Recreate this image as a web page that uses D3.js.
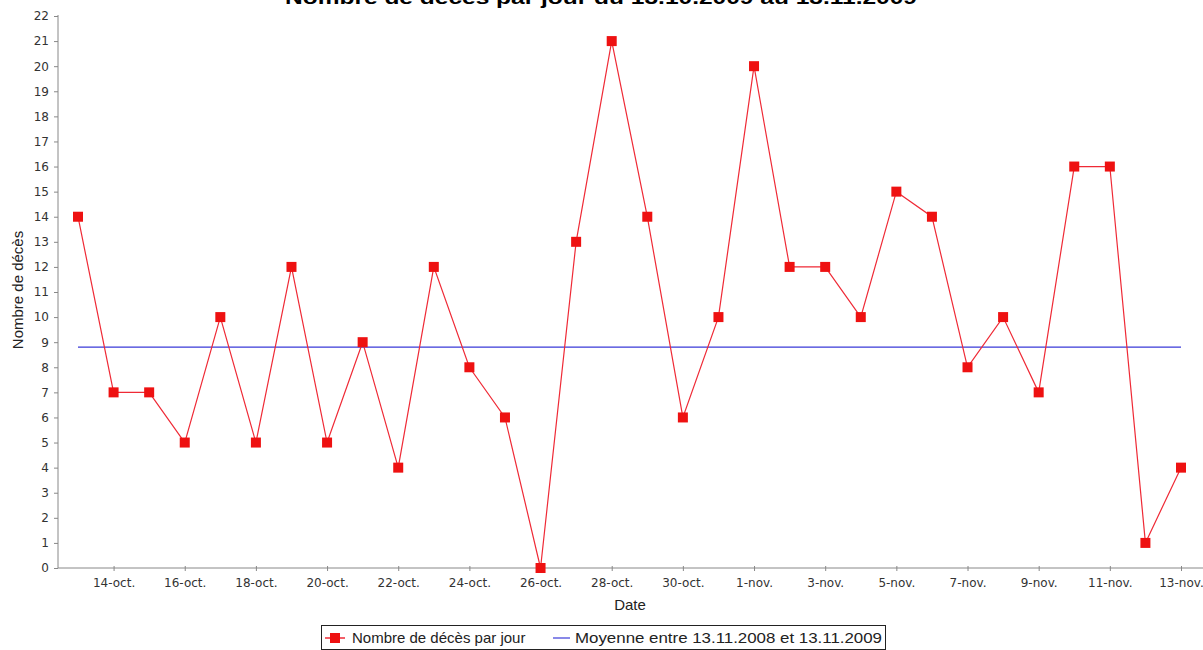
<!DOCTYPE html>
<html><head><meta charset="utf-8">
<script src="https://d3js.org/d3.v7.min.js"></script>
<style>
body{margin:0;background:#fff;}
svg{display:block;font-family:"Liberation Sans",Arial,sans-serif;}
</style></head>
<body>
<script>
const titleText = "Nombre de décès par jour du 13.10.2009 au 13.11.2009";
const startDate = "2009-10-13";
const deaths = [14,7,7,5,10,5,12,5,9,4,12,8,6,0,13,21,14,6,10,20,12,12,10,15,14,8,10,7,16,16,1,4];
const meanValue = 8.8;
const tickLabels = ["14-oct.","16-oct.","18-oct.","20-oct.","22-oct.","24-oct.","26-oct.","28-oct.","30-oct.",
  "1-nov.","3-nov.","5-nov.","7-nov.","9-nov.","11-nov.","13-nov."];
const yTicks = d3.range(0,23);
const seriesName = "Nombre de décès par jour";
const meanName = "Moyenne entre 13.11.2008 et 13.11.2009";
const xTitle = "Date", yTitle = "Nombre de décès";

const W=1203,H=650;
const svg=d3.select("body").append("svg").attr("width",W).attr("height",H);

const t0 = new Date(startDate+"T00:00:00Z");
const day = 86400000;
const dates = deaths.map((d,i)=>new Date(t0.getTime()+i*day));
const data = deaths.map((v,i)=>({date:dates[i],v}));
const tickDates = tickLabels.map((l,i)=>new Date(t0.getTime()+(1+2*i)*day));

const x = d3.scaleUtc().domain([dates[0],dates[dates.length-1]]).range([78,1181]);
const y = d3.scaleLinear().domain([0,22]).range([568,16]);
const axisColor="#888";
const red="#ee1111", lineRed="#ef2a36", blue="#3a3ad8";

// title (clipped at top as in the reference)
svg.append("text").attr("x",601).attr("y",4).attr("text-anchor","middle")
  .attr("font-weight","bold").attr("font-size",18).attr("textLength",632).attr("lengthAdjust","spacingAndGlyphs")
  .text(titleText);

// y axis
const yAxis = svg.append("g").attr("transform","translate(58,0)")
  .call(d3.axisLeft(y).tickValues(yTicks).tickFormat(d3.format("d")).tickSize(4).tickPadding(5));
// x axis
const xAxis = svg.append("g").attr("transform","translate(0,568)")
  .call(d3.axisBottom(x).tickValues(tickDates).tickFormat((d,i)=>tickLabels[i]).tickSize(3).tickPadding(7));
[yAxis,xAxis].forEach(g=>{
  g.select(".domain").remove();
  g.selectAll(".tick line").attr("stroke",axisColor);
  g.selectAll(".tick text").attr("fill","#333").attr("font-size",12).attr("font-family","DejaVu Sans, sans-serif");
});
xAxis.selectAll(".tick line").attr("y1",-2);
svg.append("line").attr("x1",58).attr("x2",58).attr("y1",y(22)-1).attr("y2",y(0)).attr("stroke",axisColor);
svg.append("line").attr("x1",58).attr("x2",W).attr("y1",y(0)).attr("y2",y(0)).attr("stroke",axisColor);

// mean line
svg.append("line").attr("x1",x(dates[0])).attr("x2",x(dates[dates.length-1]))
  .attr("y1",y(meanValue)).attr("y2",y(meanValue)).attr("stroke",blue).attr("stroke-width",1.2);

// series
svg.append("path").datum(data).attr("fill","none").attr("stroke",lineRed).attr("stroke-width",1.2)
  .attr("d",d3.line().x(d=>x(d.date)).y(d=>y(d.v)));
svg.selectAll("rect.pt").data(data).enter().append("rect").attr("class","pt")
  .attr("x",d=>x(d.date)-5).attr("y",d=>y(d.v)-5).attr("width",10).attr("height",10).attr("fill",red);

// axis titles
svg.append("text").attr("x",630).attr("y",610).attr("text-anchor","middle").attr("font-size",15).attr("fill","#222").text(xTitle);
svg.append("text").attr("transform","translate(23,290) rotate(-90)").attr("text-anchor","middle").attr("font-size",15).attr("fill","#222").text(yTitle);

// legend
const lg = svg.append("g");
lg.append("rect").attr("x",321.5).attr("y",625.5).attr("width",564).attr("height",24).attr("fill","#fff").attr("stroke","#222");
lg.append("line").attr("x1",325).attr("x2",345).attr("y1",638).attr("y2",638).attr("stroke",lineRed).attr("stroke-width",1.5);
lg.append("rect").attr("x",330).attr("y",633).attr("width",10).attr("height",10).attr("fill",red);
lg.append("text").attr("x",352).attr("y",643).attr("font-size",15).attr("fill","#222").text(seriesName);
lg.append("line").attr("x1",553).attr("x2",570).attr("y1",638).attr("y2",638).attr("stroke",blue).attr("stroke-width",1.2);
lg.append("text").attr("x",575).attr("y",643).attr("font-size",15).attr("fill","#222").attr("textLength",307).attr("lengthAdjust","spacingAndGlyphs").text(meanName);
</script>
</body></html>
